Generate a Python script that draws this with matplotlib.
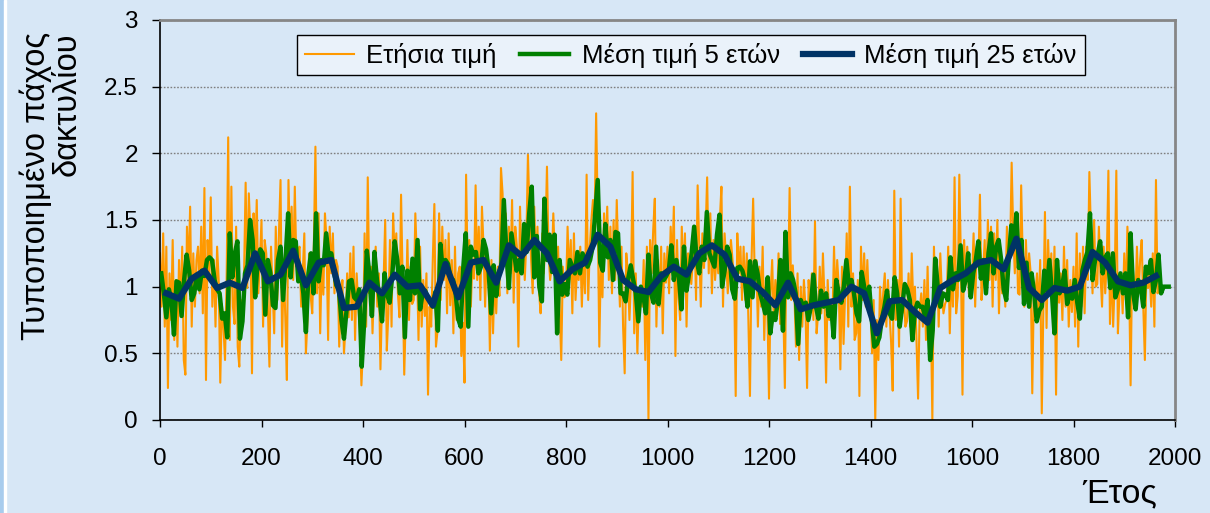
import numpy as np
import matplotlib
matplotlib.use('Agg')
import matplotlib.pyplot as plt
from matplotlib.patches import Rectangle

plt.rcParams['font.family'] = ['Liberation Sans', 'DejaVu Sans']

# 25-year means, one per block of 25 years
mean25 = [0.95, 0.91, 1.06, 1.12, 0.99, 1.03, 0.99, 1.25, 1.04, 1.09,
          1.27, 1.01, 1.18, 1.20, 0.84, 0.85, 1.03, 0.95, 1.09, 1.00,
          1.01, 0.86, 1.17, 0.92, 1.18, 1.20, 1.03, 1.31, 1.23, 1.35,
          1.25, 1.04, 1.13, 1.18, 1.39, 1.30, 1.05, 0.98, 0.96, 1.08,
          1.15, 1.09, 1.25, 1.31, 1.24, 1.06, 1.04, 0.96, 0.86, 1.03,
          0.83, 0.86, 0.88, 0.90, 1.00, 0.95, 0.65, 0.89, 0.90, 0.81,
          0.73, 0.99, 1.05, 1.10, 1.18, 1.20, 1.13, 1.36, 0.99, 0.90,
          0.99, 0.97, 1.00, 1.26, 1.18, 1.04, 1.01, 1.03, 1.08]

# 5-year means (5 per 25-year block, plus the flat tail)
mean5 = [
    1.10, 0.95, 0.77, 0.98, 0.90,  0.64, 1.04, 1.03, 0.78, 1.05,
    1.24, 1.12, 0.90, 0.95, 1.09,  0.98, 1.12, 1.08, 1.20, 1.22,
    1.20, 1.05, 0.98, 0.95, 0.76,  0.80, 0.62, 1.40, 1.07, 1.25,
    1.34, 0.61, 0.74, 1.10, 1.16,  1.50, 1.35, 0.92, 1.20, 1.28,
    1.25, 0.79, 1.20, 1.10, 0.86,  0.84, 1.20, 1.30, 0.90, 1.21,
    1.55, 1.07, 1.35, 1.34, 1.04,  1.10, 0.95, 0.66, 1.10, 1.25,
    0.95, 1.55, 1.04, 1.20, 1.16,  1.40, 1.22, 1.25, 1.12, 1.01,
    0.98, 0.75, 0.61, 0.82, 1.04,  1.05, 0.92, 0.90, 0.98, 0.40,
    0.75, 1.27, 1.10, 0.78, 1.26,  1.05, 0.92, 0.74, 1.10, 0.94,
    0.88, 1.08, 1.34, 1.20, 0.95,  1.15, 0.62, 1.12, 0.90, 1.21,
    0.95, 1.35, 0.83, 0.95, 0.97,  0.92, 0.90, 0.85, 0.96, 0.67,
    1.32, 1.10, 1.20, 1.17, 1.06,  1.05, 0.95, 0.76, 0.70, 1.14,
    1.40, 0.70, 1.30, 1.24, 1.26,  1.10, 1.15, 1.35, 1.28, 1.12,
    0.80, 1.16, 0.93, 1.10, 1.16,  1.65, 1.25, 0.99, 1.40, 1.26,
    1.12, 1.20, 1.10, 1.47, 1.26,  1.55, 1.75, 1.07, 1.38, 1.00,
    0.89, 1.66, 1.20, 1.39, 1.11,  1.39, 0.65, 1.20, 0.94, 1.02,
    0.94, 1.20, 1.15, 1.10, 1.26,  1.10, 1.25, 1.20, 1.15, 1.20,
    1.30, 1.55, 1.80, 1.18, 1.12,  1.47, 1.22, 1.35, 1.05, 1.41,
    1.40, 0.95, 0.95, 0.89, 1.06,  1.16, 1.05, 0.95, 0.74, 1.00,
    0.93, 0.80, 1.24, 0.95, 0.88,  1.30, 0.87, 1.10, 1.05, 1.08,
    1.12, 1.31, 1.05, 1.20, 1.07,  0.83, 1.30, 0.97, 1.10, 1.25,
    1.45, 1.20, 1.10, 1.30, 1.20,  1.56, 1.25, 1.20, 1.15, 1.39,
    1.54, 1.00, 1.12, 1.30, 1.24,  0.98, 0.91, 1.14, 1.15, 1.12,
    1.05, 0.85, 1.19, 0.92, 1.19,  1.10, 0.95, 0.88, 0.80, 1.07,
    0.65, 0.80, 0.75, 0.90, 1.20,  0.67, 1.41, 0.92, 1.10, 1.05,
    0.95, 0.57, 0.90, 0.85, 0.88,  0.75, 0.85, 1.09, 0.85, 0.76,
    0.97, 0.85, 0.95, 0.78, 0.85,  0.62, 1.05, 0.95, 0.88, 1.00,
    1.20, 1.00, 1.05, 0.95, 0.80,  0.74, 1.11, 1.00, 0.90, 1.00,
    0.75, 0.55, 0.57, 0.62, 0.76,  0.85, 0.97, 0.80, 0.76, 1.07,
    0.95, 0.70, 0.85, 1.02, 0.98,  0.90, 0.60, 0.82, 0.88, 0.85,
    0.85, 0.78, 0.90, 0.45, 0.67,  1.21, 1.00, 0.85, 0.95, 0.94,
    0.90, 1.22, 0.98, 1.10, 1.05,  1.31, 0.97, 1.05, 1.25, 0.92,
    1.10, 1.20, 1.34, 1.06, 1.20,  0.95, 1.25, 1.40, 1.10, 1.30,
    1.35, 1.20, 0.98, 0.90, 1.22,  1.46, 1.30, 1.55, 1.14, 1.35,
    0.87, 1.18, 0.85, 1.10, 0.95,  0.74, 0.82, 0.85, 1.12, 0.97,
    1.20, 0.95, 0.65, 1.20, 0.95,  1.00, 1.12, 0.87, 0.95, 0.91,
    1.05, 0.88, 0.76, 1.12, 1.20,  1.26, 1.55, 1.05, 1.20, 1.24,
    1.34, 1.10, 1.22, 1.25, 0.99,  1.25, 0.92, 0.98, 1.10, 0.95,
    1.10, 0.77, 1.40, 0.95, 0.83,  1.05, 1.00, 0.85, 1.15, 1.10,
    1.20, 0.96, 1.05, 1.24, 0.95,  1.00, 1.00, 1.00]

# annual values, sampled 8 per 25-year block
annual = [
    1.25, 0.85, 1.40, 0.70, 1.30, 0.24, 1.10, 0.75,
    1.35, 0.60, 1.05, 0.55, 1.20, 0.80, 1.30, 0.45,
    0.34, 1.45, 1.10, 1.60, 0.70, 1.25, 0.85, 1.20,
    1.30, 0.95, 1.45, 0.80, 1.74, 0.30, 1.35, 1.07,
    1.67, 0.85, 1.20, 0.70, 1.30, 1.05, 0.28, 0.87,
    0.70, 0.45, 1.05, 2.12, 0.60, 1.75, 0.85, 0.72,
    1.45, 0.55, 0.40, 0.90, 0.75, 1.10, 1.78, 0.99,
    1.70, 1.40, 0.35, 1.55, 1.20, 1.65, 0.95, 1.20,
    1.50, 0.70, 1.35, 1.25, 0.85, 0.40, 1.30, 0.97,
    0.65, 1.45, 0.90, 1.40, 1.80, 0.55, 1.20, 0.77,
    0.30, 1.80, 1.25, 1.60, 1.05, 1.75, 1.15, 1.26,
    1.30, 0.85, 1.10, 1.40, 0.50, 0.75, 1.25, 0.93,
    0.80, 1.30, 2.05, 0.95, 1.55, 0.65, 1.20, 0.94,
    1.55, 1.35, 0.60, 1.45, 1.10, 1.40, 0.95, 1.20,
    1.15, 0.55, 0.90, 1.05, 0.50, 0.70, 1.10, 0.77,
    1.25, 0.75, 1.30, 0.60, 1.10, 0.85, 0.69, 0.26,
    0.55, 1.40, 0.70, 1.82, 0.95, 1.15, 0.65, 1.02,
    1.30, 0.85, 1.10, 0.38, 0.90, 1.05, 1.50, 0.52,
    0.80, 1.35, 0.70, 1.55, 1.20, 1.40, 0.95, 0.77,
    1.69, 1.05, 0.34, 0.80, 1.35, 0.75, 1.15, 0.87,
    0.90, 1.55, 1.20, 0.60, 1.30, 0.70, 1.05, 0.78,
    1.10, 0.19, 0.85, 0.70, 1.20, 1.62, 0.55, 0.67,
    1.55, 0.90, 1.45, 1.05, 1.35, 0.80, 1.40, 0.86,
    1.20, 0.65, 1.30, 0.75, 1.10, 1.15, 0.48, 0.73,
    0.28, 1.84, 1.10, 1.35, 0.85, 1.20, 1.06, 1.76,
    1.05, 1.45, 0.90, 1.60, 1.30, 0.85, 1.25, 1.20,
    0.52, 1.20, 0.65, 1.10, 0.80, 1.15, 0.93, 1.89,
    1.70, 1.20, 1.55, 0.95, 1.45, 1.10, 1.65, 0.88,
    1.45, 1.30, 0.55, 1.60, 1.15, 1.40, 1.05, 1.34,
    1.99, 1.55, 1.20, 0.95, 1.60, 1.10, 1.45, 0.96,
    0.80, 1.40, 1.10, 1.35, 1.90, 1.25, 1.05, 1.15,
    1.55, 1.20, 0.90, 1.30, 0.85, 0.45, 1.15, 0.92,
    0.95, 1.45, 1.05, 1.35, 0.80, 1.40, 0.90, 1.14,
    1.05, 1.30, 0.85, 1.25, 0.95, 1.84, 0.90, 1.30,
    1.50, 1.65, 1.45, 2.30, 1.55, 0.55, 1.20, 0.92,
    1.55, 1.25, 1.60, 1.05, 1.45, 0.95, 1.50, 1.05,
    1.65, 1.20, 0.85, 1.30, 0.70, 0.35, 1.25, 1.10,
    0.75, 1.05, 1.86, 0.65, 1.10, 0.50, 0.95, 0.98,
    0.85, 1.20, 0.45, 1.30, 0.00, 1.35, 1.10, 1.43,
    1.66, 0.70, 1.20, 0.85, 1.30, 0.65, 1.25, 1.03,
    1.30, 0.95, 1.45, 1.15, 1.60, 0.48, 1.35, 0.92,
    0.75, 1.45, 1.05, 1.40, 0.70, 1.25, 1.10, 1.02,
    1.20, 1.45, 0.90, 1.76, 1.30, 0.85, 1.40, 1.14,
    1.40, 1.82, 1.10, 1.55, 0.95, 1.35, 1.05, 1.26,
    1.10, 1.50, 1.75, 0.85, 1.40, 1.20, 0.95, 1.17,
    1.35, 1.20, 1.05, 0.18, 1.40, 1.10, 1.30, 0.90,
    1.30, 0.90, 1.25, 0.75, 0.18, 1.20, 1.66, 1.08,
    1.20, 0.70, 1.15, 0.85, 1.30, 0.60, 1.05, 0.83,
    0.16, 0.95, 1.20, 0.75, 1.05, 0.80, 1.25, 0.72,
    1.10, 0.85, 0.24, 1.30, 0.95, 1.74, 0.90, 1.16,
    0.95, 0.55, 1.10, 0.45, 1.00, 0.70, 1.05, 0.84,
    0.24, 1.05, 0.80, 1.10, 0.75, 1.49, 0.65, 0.80,
    1.15, 0.80, 1.25, 0.90, 0.28, 1.05, 0.75, 0.86,
    0.75, 1.30, 0.85, 1.20, 1.00, 0.38, 1.15, 0.57,
    0.95, 1.40, 0.70, 1.75, 0.85, 1.10, 0.60, 0.65,
    1.05, 0.18, 1.30, 0.90, 1.25, 0.85, 1.20, 0.87,
    0.85, 0.50, 0.90, 0.00, 0.75, 0.45, 1.00, 0.75,
    0.95, 1.10, 0.70, 1.05, 0.80, 0.58, 0.22, 1.72,
    0.75, 1.05, 0.55, 1.66, 0.80, 0.95, 0.70, 0.74,
    1.10, 0.70, 1.25, 0.85, 1.00, 0.60, 0.16, 0.82,
    0.95, 0.70, 1.05, 0.60, 1.15, 0.55, 0.84, 0.00,
    1.30, 0.85, 1.20, 0.70, 1.25, 0.95, 0.80, 0.87,
    0.90, 1.30, 0.65, 1.15, 0.85, 1.82, 0.80, 0.93,
    1.84, 1.20, 0.19, 1.35, 1.05, 1.30, 0.95, 0.92,
    1.05, 1.40, 0.85, 1.30, 1.15, 1.69, 0.90, 1.10,
    1.35, 0.95, 1.50, 1.05, 1.45, 0.85, 1.40, 1.05,
    1.50, 0.80, 1.25, 0.95, 1.10, 0.85, 1.45, 1.14,
    1.25, 1.93, 1.40, 1.10, 1.55, 0.95, 0.94, 1.76,
    1.20, 0.85, 1.35, 1.00, 1.25, 1.10, 0.20, 0.97,
    0.95, 1.10, 0.80, 1.20, 0.05, 0.85, 1.56, 0.69,
    1.35, 0.95, 1.25, 0.80, 1.30, 0.19, 1.20, 0.88,
    1.10, 0.75, 1.30, 0.85, 1.20, 0.70, 1.05, 0.81,
    1.15, 0.70, 1.40, 0.55, 1.25, 0.85, 1.30, 0.80,
    1.30, 1.05, 1.86, 1.40, 0.95, 1.50, 1.00, 1.02,
    1.45, 1.10, 0.85, 1.30, 0.95, 1.20, 1.87, 0.72,
    1.20, 0.70, 1.05, 1.87, 0.65, 0.95, 1.10, 0.80,
    1.25, 0.90, 1.45, 1.10, 0.26, 1.20, 1.05, 0.87,
    1.30, 0.95, 1.20, 1.35, 0.85, 0.45, 1.15, 0.99,
    1.10, 0.85, 1.25, 0.70, 1.80, 0.95, 1.00, 0.99]

labels = ['Ετήσια τιμή', 'Μέση τιμή 5 ετών', 'Μέση τιμή 25 ετών']

yrs_annual = np.arange(len(annual)) * 25 / 8
yrs_5 = 2.5 + 5 * np.arange(len(mean5))
yrs_25 = 12.5 + 25 * np.arange(len(mean25))

bg = '#d7e7f6'
fig = plt.figure(figsize=(12.10, 5.13), dpi=100, facecolor=bg)
fig.patches.append(Rectangle((0, 0), 4 / 1210, 1, transform=fig.transFigure,
                             color='#a8cced', zorder=0))
fig.patches.append(Rectangle((4 / 1210, 0), 2 / 1210, 1, transform=fig.transFigure,
                             color='white', zorder=0))

ax = fig.add_axes([160 / 1210, 1 - 420 / 513, 1015 / 1210, 400 / 513])
ax.set_facecolor(bg)

ax.plot(yrs_annual, annual, color='#ff9900', lw=1.5, label=labels[0], zorder=2)
ax.plot(yrs_5, mean5, color='#008000', lw=3.2, label=labels[1], zorder=3)
ax.plot(yrs_25, mean25, color='#003366', lw=4.5, label=labels[2], zorder=4,
        solid_joinstyle='round')

ax.set_xlim(0, 2000)
ax.set_ylim(0, 3)
ax.set_xticks(range(0, 2001, 200))
ax.set_yticks([0, 0.5, 1, 1.5, 2, 2.5, 3])
ax.set_yticklabels(['0', '0.5', '1', '1.5', '2', '2.5', '3'])
ax.yaxis.grid(True, linestyle=(0, (1.2, 1.2)), color='#7f7f7f', lw=1.0)
ax.set_axisbelow(True)

for s in ['left', 'bottom']:
    ax.spines[s].set_color('black')
    ax.spines[s].set_linewidth(1.2)
for s in ['top', 'right']:
    ax.spines[s].set_color('#868686')
    ax.spines[s].set_linewidth(2.0)

ax.tick_params(axis='x', direction='out', length=5, width=1, pad=15, labelsize=17.5)
ax.tick_params(axis='y', direction='out', length=6, width=1, pad=10, labelsize=17.5)

fig.text(51 / 1210, 1 - 32 / 513, 'Τυποποιημένο πάχος\nδακτυλίου', rotation=90,
         ha='center', va='top', multialignment='right', fontsize=23.5,
         linespacing=1.0)
fig.text(1120 / 1210, 1 - 494 / 513, 'Έτος', ha='center', va='center', fontsize=24.5)

leg = ax.legend(loc='upper left', bbox_to_anchor=(0.135, 0.9625), ncol=3,
                fontsize=18.5, frameon=True, fancybox=False, handlelength=1.9,
                handletextpad=0.5, columnspacing=0.9, borderpad=0.3,
                borderaxespad=0)
leg.get_frame().set_facecolor('#eaf2fa')
leg.get_frame().set_edgecolor('black')
leg.get_frame().set_linewidth(1.0)
leg.get_frame().set_alpha(1)

fig.savefig('out.png', dpi=100, facecolor=bg)
